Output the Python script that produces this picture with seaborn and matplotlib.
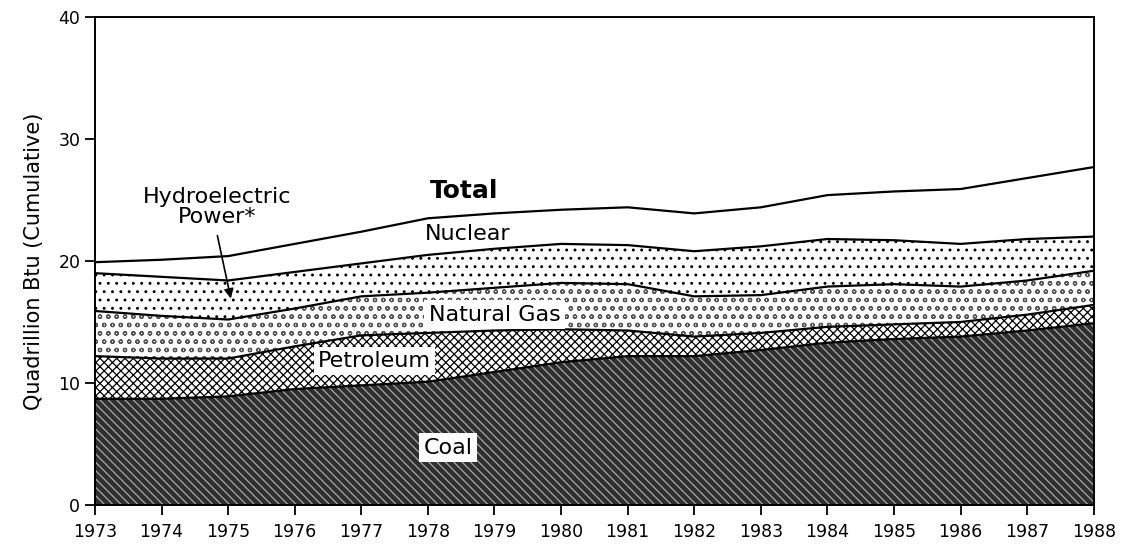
import numpy as np
import pandas as pd
import matplotlib
matplotlib.use("Agg")
import matplotlib.pyplot as plt
import seaborn as sns

# Energy input by source, quadrillion Btu
years = list(range(1973, 1989))
coal = [8.7, 8.7, 8.9, 9.5, 9.8, 10.1, 10.9, 11.7, 12.2, 12.2, 12.7, 13.3, 13.6, 13.8, 14.3, 14.9]
petroleum = [3.5, 3.3, 3.1, 3.5, 4.1, 4.0, 3.4, 2.7, 2.1, 1.6, 1.4, 1.3, 1.2, 1.2, 1.3, 1.5]
natural_gas = [3.7, 3.5, 3.2, 3.1, 3.2, 3.3, 3.5, 3.8, 3.8, 3.3, 3.1, 3.3, 3.3, 2.9, 2.8, 2.8]
hydro = [3.1, 3.2, 3.2, 3.0, 2.7, 3.1, 3.2, 3.2, 3.2, 3.7, 4.0, 3.9, 3.6, 3.5, 3.4, 2.8]
nuclear = [0.9, 1.4, 2.0, 2.3, 2.6, 3.0, 2.9, 2.8, 3.1, 3.1, 3.2, 3.6, 4.0, 4.5, 5.0, 5.7]

df = pd.DataFrame({
    'Year': years,
    'Coal': coal,
    'Petroleum': petroleum,
    'Natural Gas': natural_gas,
    'Hydroelectric': hydro,
    'Nuclear': nuclear,
})

sns.set_theme(style="ticks")
plt.rcParams['font.family'] = ['DejaVu Sans']
plt.rcParams['hatch.linewidth'] = 0.9
plt.rcParams['text.color'] = 'black'
plt.rcParams['axes.labelcolor'] = 'black'
plt.rcParams['xtick.color'] = 'black'
plt.rcParams['ytick.color'] = 'black'

fig, ax = plt.subplots(figsize=(11.3, 5.5), dpi=100)
fig.subplots_adjust(left=0.084, right=0.968, bottom=0.082, top=0.969)

# fill style per layer: face, hatch colour, hatch
styles = {
    'Coal': ('#2e2e2e', '#a8a8a8', '\\\\\\\\'),
    'Petroleum': ('white', 'black', 'xxxx'),
    'Natural Gas': ('white', '#555555', 'oo'),
    'Hydroelectric': ('white', 'black', '..'),
    'Nuclear': ('white', 'white', None),
}

bottom = np.zeros(len(df))
for col, (face, edge, hatch) in styles.items():
    top = bottom + df[col].values
    ax.fill_between(df['Year'], bottom, top, facecolor=face, edgecolor=edge,
                    hatch=hatch, linewidth=0)
    sns.lineplot(x=df['Year'], y=top, color='black', linewidth=1.6, ax=ax)
    bottom = top

ax.set_xlim(1973, 1988)
ax.set_ylim(0, 40)
ax.set_xticks(years)
ax.set_yticks([0, 10, 20, 30, 40])
ax.tick_params(axis='both', labelsize=12.5, length=7, width=1.3)
ax.tick_params(axis='x', pad=6)
ax.set_ylabel('Quadrillion Btu (Cumulative)', fontsize=15, labelpad=10)
ax.set_xlabel('')
for s in ax.spines.values():
    s.set_linewidth(1.4)
    s.set_color('black')

# labels
box = dict(facecolor='white', edgecolor='none', pad=3)
ax.text(1978.3, 4.7, 'Coal', fontsize=16, ha='center', va='center', bbox=box)
ax.text(1977.2, 11.8, 'Petroleum', fontsize=16, ha='center', va='center', bbox=box)
ax.text(1979.0, 15.6, 'Natural Gas', fontsize=16, ha='center', va='center', bbox=box)
ax.text(1978.6, 22.2, 'Nuclear', fontsize=16, ha='center', va='center')
ax.text(1978.55, 25.7, 'Total', fontsize=18, fontweight='bold', ha='center', va='center')
ax.text(1974.84, 24.4, 'Hydroelectric\nPower*', fontsize=16, ha='center', va='center',
        linespacing=1.0)
ax.annotate('', xy=(1975.05, 16.7), xytext=(1974.83, 22.3),
            arrowprops=dict(arrowstyle='-|>', color='black', lw=1.2, mutation_scale=14))

plt.savefig('out.png', dpi=100)
